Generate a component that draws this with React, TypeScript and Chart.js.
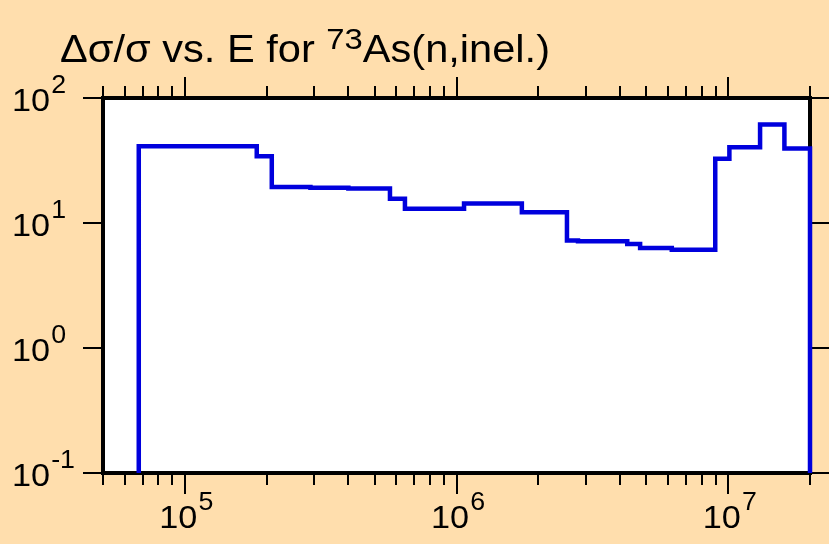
import React, { useEffect, useRef } from "react";
import { Chart, registerables } from "chart.js";

Chart.register(...registerables);

// Bin edges (eV) and relative uncertainty (%) per bin
const binEdges = [6.77e4, 1.84e5, 2.09e5, 2.9e5, 4.0e5, 5.69e5, 6.46e5, 1.066e6, 1.74e6, 2.55e6, 2.8e6, 4.25e6, 4.74e6, 6.2e6, 8.96e6, 1.01e7, 1.31e7, 1.61e7, 2.0e7];
const binValues = [41.1, 34.2, 19.4, 19.1, 18.9, 15.6, 13.0, 14.3, 12.2, 7.26, 7.13, 6.8, 6.3, 6.1, 32.7, 40.3, 61.3, 39.4];

const xMin = 5e4;
const xMax = 2e7;
const yMin = 0.1;
const yMax = 100;
const xDecades = [4, 5, 6, 7];
const xLabelExps = [5, 6, 7];
const yLabelExps = [-1, 0, 1, 2];

const titleMain = "Δσ/σ vs. E for ";
const titleSup = "73";
const titleTail = "As(n,inel.)";

const BG = "#FFDEAD";
const LINE = "#0000DD";
const FONT = '"Liberation Sans", Arial, Helvetica, sans-serif';

function drawPow(ctx: CanvasRenderingContext2D, base: string, sup: string, x: number, y: number, align: string, baseSize: number, supSize: number, rise: number, sx: number) {
  ctx.font = `${baseSize}px ${FONT}`;
  const wb = ctx.measureText(base).width;
  ctx.font = `${supSize}px ${FONT}`;
  const ws = ctx.measureText(sup).width;
  const total = (wb + ws) * sx;
  const x0 = align === "left" ? x : align === "center" ? x - total / 2 : x - total;
  ctx.save();
  ctx.translate(x0, 0);
  ctx.scale(sx, 1);
  ctx.textAlign = "left";
  ctx.textBaseline = "alphabetic";
  ctx.fillStyle = "#000";
  ctx.font = `${baseSize}px ${FONT}`;
  ctx.fillText(base, 0, y);
  ctx.font = `${supSize}px ${FONT}`;
  ctx.fillText(sup, wb + 1, y - rise);
  ctx.restore();
}

const framePlugin = {
  id: "frame",
  beforeDraw(chart: any) {
    const { ctx, chartArea: a } = chart;
    ctx.save();
    ctx.fillStyle = BG;
    ctx.fillRect(0, 0, chart.width, chart.height);
    ctx.fillStyle = "#fff";
    ctx.fillRect(a.left, a.top, a.right - a.left, a.bottom - a.top);
    ctx.restore();
  },
  beforeDatasetsDraw(chart: any) {
    const { ctx, chartArea: a } = chart;
    const xs = chart.scales.x;
    const ys = chart.scales.y;
    ctx.save();
    ctx.strokeStyle = "#000";
    ctx.lineWidth = 2;
    ctx.beginPath();
    for (const d of xDecades) {
      for (let m = 1; m <= 9; m++) {
        const v = m * Math.pow(10, d);
        if (v < xMin - 1 || v > xMax + 1) continue;
        const px = Math.round(xs.getPixelForValue(v));
        const len = m === 1 ? 19 : 10;
        ctx.moveTo(px, a.bottom);
        ctx.lineTo(px, a.bottom + 2 + len);
        ctx.moveTo(px, a.top);
        ctx.lineTo(px, a.top - 2 - len);
      }
    }
    for (const e of yLabelExps) {
      const py = Math.round(ys.getPixelForValue(Math.pow(10, e)));
      ctx.moveTo(a.left, py);
      ctx.lineTo(a.left - 20, py);
      ctx.moveTo(a.right, py);
      ctx.lineTo(a.right + 20, py);
    }
    ctx.stroke();
    ctx.lineWidth = 4;
    ctx.strokeRect(a.left, a.top, a.right - a.left, a.bottom - a.top);
    ctx.restore();
  },
  afterDraw(chart: any) {
    const { ctx } = chart;
    const xs = chart.scales.x;
    const ys = chart.scales.y;
    for (const e of xLabelExps) {
      const px = xs.getPixelForValue(Math.pow(10, e));
      drawPow(ctx, "10", String(e), px + 1, 528, "center", 32, 25, 17.6, 1.07);
    }
    for (const e of yLabelExps) {
      const py = ys.getPixelForValue(Math.pow(10, e));
      drawPow(ctx, "10", String(e), 12, py + 13, "left", 32, 25, 17.6, 1.07);
    }
    // title
    ctx.save();
    const bs = 38;
    const ss = 30;
    ctx.font = `${bs}px ${FONT}`;
    const w1 = ctx.measureText(titleMain).width;
    const w3 = ctx.measureText(titleTail).width;
    ctx.font = `${ss}px ${FONT}`;
    const w2 = ctx.measureText(titleSup).width;
    const sx = 490 / (w1 + w2 + w3);
    ctx.translate(60, 0);
    ctx.scale(sx, 1);
    ctx.fillStyle = "#000";
    ctx.textAlign = "left";
    ctx.textBaseline = "alphabetic";
    ctx.font = `${bs}px ${FONT}`;
    ctx.fillText(titleMain, 0, 62);
    ctx.font = `${ss}px ${FONT}`;
    ctx.fillText(titleSup, w1, 49);
    ctx.font = `${bs}px ${FONT}`;
    ctx.fillText(titleTail, w1 + w2, 62);
    ctx.restore();
  },
};

export default function App() {
  const ref = useRef<HTMLCanvasElement | null>(null);
  useEffect(() => {
    if (!ref.current) return;
    const last = binEdges.length - 1;
    const pts = [{ x: binEdges[0], y: yMin }];
    for (let i = 0; i < binValues.length; i++) pts.push({ x: binEdges[i], y: binValues[i] });
    pts.push({ x: binEdges[last], y: binValues[binValues.length - 1] });
    pts.push({ x: binEdges[last], y: yMin });
    const chart = new Chart(ref.current, {
      type: "line",
      data: {
        datasets: [
          {
            data: pts,
            borderColor: LINE,
            borderWidth: 4.5,
            pointRadius: 0,
            stepped: true,
            fill: false,
            clip: false,
            tension: 0,
          } as any,
        ],
      },
      options: {
        responsive: false,
        animation: false,
        devicePixelRatio: 1,
        layout: { padding: { left: 103, top: 98, right: 19, bottom: 71 } },
        plugins: { legend: { display: false }, tooltip: { enabled: false }, title: { display: false } },
        scales: {
          x: { type: "logarithmic", min: xMin, max: xMax, display: false },
          y: { type: "logarithmic", min: yMin, max: yMax, display: false },
        },
      },
      plugins: [framePlugin],
    });
    return () => chart.destroy();
  }, []);
  return (
    <div style={{ position: "fixed", left: 0, top: 0, width: 829, height: 544, background: BG }}>
      <canvas ref={ref} width={829} height={544} style={{ display: "block" }} />
    </div>
  );
}
